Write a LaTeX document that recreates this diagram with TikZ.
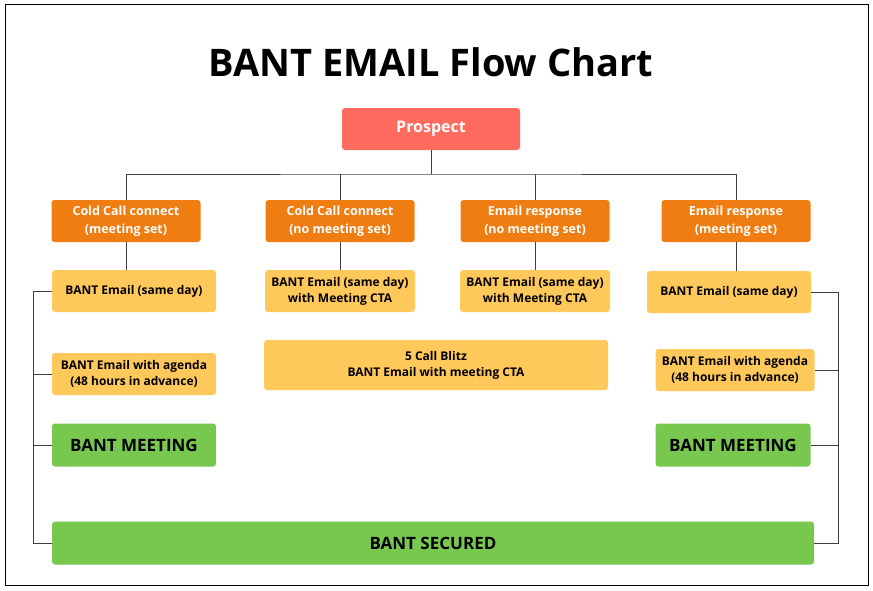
\documentclass[tikz,border=0pt]{standalone}
\usepackage{fontspec}
\setmainfont{Open Sans}
\usetikzlibrary{positioning}
\definecolor{prospect}{HTML}{FF6B5F}
\definecolor{source}{HTML}{EF7D12}
\definecolor{step}{HTML}{FFC85A}
\definecolor{goal}{HTML}{78C850}
\tikzset{
  box/.style={rounded corners=3pt,align=center,font=\bfseries\fontsize{12}{16}\selectfont,inner sep=0pt},
  src/.style={box,fill=source,text=white,minimum width=149pt,minimum height=42pt,font=\bfseries\fontsize{12.5}{18}\selectfont},
  stp/.style={box,fill=step,minimum width=164pt,minimum height=42pt},
  win/.style={box,fill=goal,minimum height=43pt,font=\bfseries\fontsize{17}{20}\selectfont},
  link/.style={draw=black!75,line width=0.8pt}
}
\begin{document}
\begin{tikzpicture}[x=1pt,y=-1pt]
  \useasboundingbox (0,0) rectangle (873,590);
  \draw[line width=0.8pt] (5,4) rectangle (868,585);
  \node[font=\bfseries\fontsize{38}{44}\selectfont] (title) at (431,62) {BANT EMAIL Flow Chart};

  \node[box,fill=prospect,text=white,minimum width=178pt,minimum height=42pt,font=\bfseries\fontsize{16}{18}\selectfont] (prospect) at (431,129) {Prospect};

  \node[src] (cc1) at (126,221) {Cold Call connect\\(meeting set)};
  \node[src] (cc2) at (340,221) {Cold Call connect\\(no meeting set)};
  \node[src] (er1) at (535,221) {Email response\\(no meeting set)};
  \node[src] (er2) at (736,221) {Email response\\(meeting set)};

  \node[stp] (day1) at (134,291) {BANT Email (same day)};
  \node[stp,minimum width=150pt] (cta1) at (340,291) {BANT Email (same day)\\with Meeting CTA};
  \node[stp,minimum width=150pt] (cta2) at (535,291) {BANT Email (same day)\\with Meeting CTA};
  \node[stp] (day2) at (729,292) {BANT Email (same day)};
  \node[stp] (agenda1) at (134,374) {BANT Email with agenda\\(48 hours in advance)};
  \node[stp,minimum width=344pt,minimum height=50pt] (blitz) at (436,365) {5 Call Blitz\\BANT Email with meeting CTA};
  \node[stp,minimum width=159pt] (agenda2) at (735,370) {BANT Email with agenda\\(48 hours in advance)};

  \node[win,minimum width=164pt] (meet1) at (134,445) {BANT MEETING};
  \node[win,minimum width=155pt] (meet2) at (733,445) {BANT MEETING};
  \node[win,minimum width=762pt,font=\bfseries\fontsize{17}{20}\selectfont] (secured) at (433,543) {BANT SECURED};

  % tree from the prospect
  \coordinate (bus) at (431,174);
  \path[link] (prospect) -- (bus);
  \path[link] (cc1.north) |- (bus) -| (er2.north);
  \path[link] (cc2.north) -- (cc2.north |- bus);
  \path[link] (er1.north) -- (er1.north |- bus);
  \path[link] (cc1) -- (cc1 |- day1.north);
  \path[link] (cc2) -- (cc2 |- cta1.north);
  \path[link] (er1) -- (er1 |- cta2.north);
  \path[link] (er2) -- (er2 |- day2.north);

  % left bracket
  \coordinate (lb) at (33,0);
  \path[link] (day1.west) -- (day1.west -| lb) -- (secured.west -| lb) -- (secured.west);
  \path[link] (agenda1.west) -- (agenda1.west -| lb);
  \path[link] (meet1.west) -- (meet1.west -| lb);

  % right bracket
  \coordinate (rb) at (838,0);
  \path[link] (day2.east) -- (day2.east -| rb) -- (secured.east -| rb) -- (secured.east);
  \path[link] (agenda2.east) -- (agenda2.east -| rb);
  \path[link] (meet2.east) -- (meet2.east -| rb);
\end{tikzpicture}
\end{document}
